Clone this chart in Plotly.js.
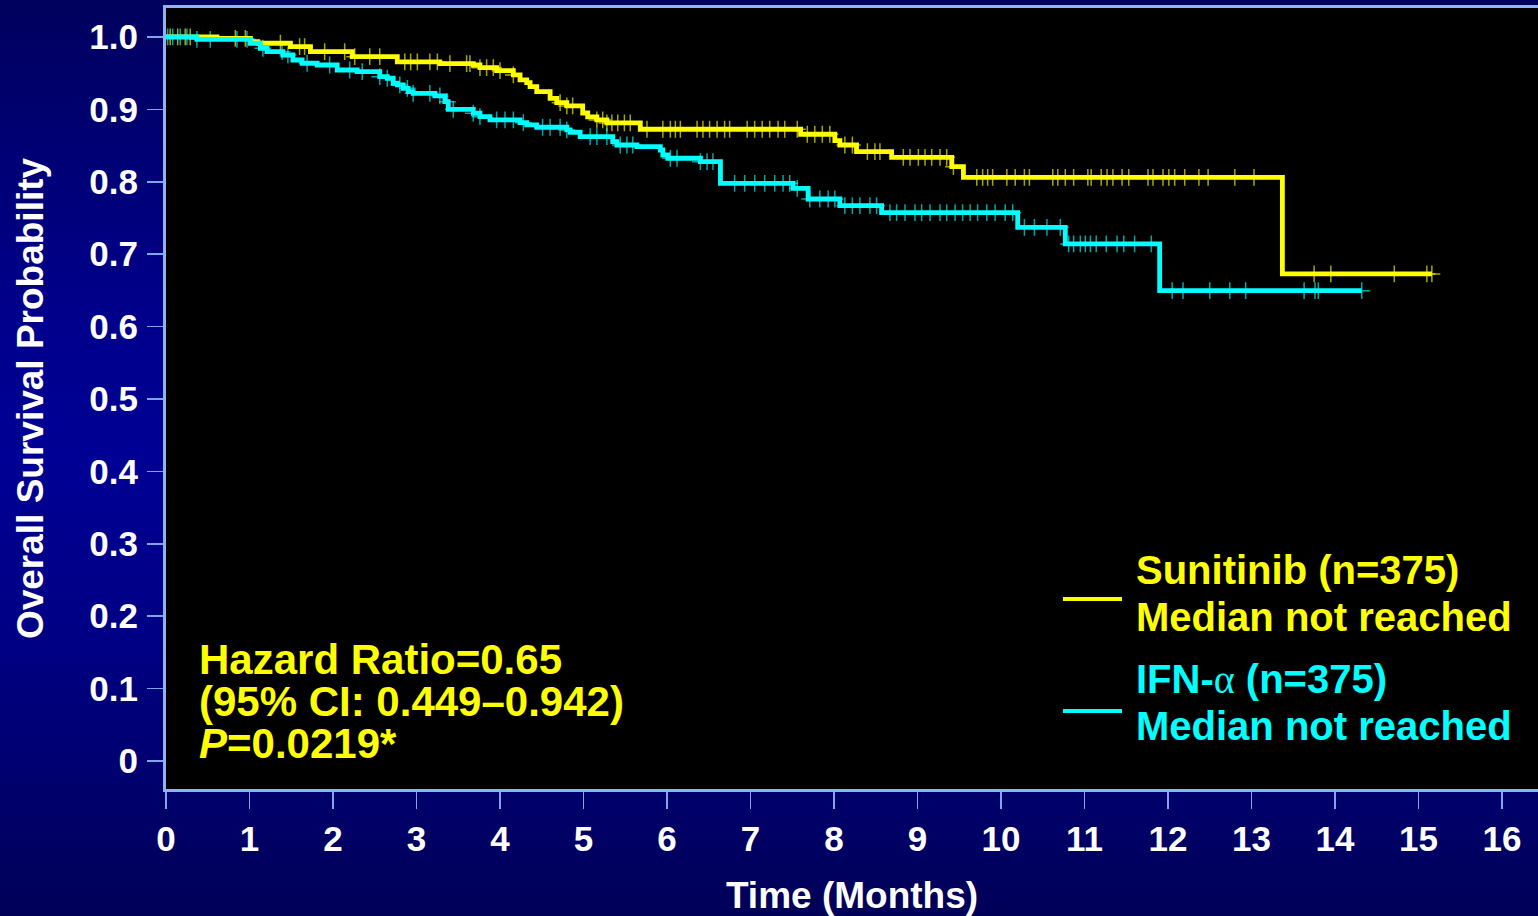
<!DOCTYPE html>
<html>
<head>
<meta charset="utf-8">
<script src="https://cdn.plot.ly/plotly-3.0.1.min.js"></script>
<style>
  html, body { margin: 0; padding: 0; }
  body {
    width: 1538px; height: 916px; overflow: hidden;
    background: linear-gradient(to bottom, #00005e 0%, #00008c 35%, #000094 50%, #000084 70%, #000058 100%);
  }
  #chart { width: 1538px; height: 916px; }
</style>
</head>
<body>
<div id="chart"></div>
<script>
// ---- Data ----
const seriesNames = ["Sunitinib (n=375)", "IFN-<span style='font-family:Liberation Serif;font-weight:normal'>\u03b1</span> (n=375)"];

const sunTime = [0, 0.61, 1.01, 1.10, 1.49, 1.73, 2.23, 2.77, 3.28, 3.68,
  3.76, 3.96, 4.16, 4.24, 4.32, 4.36, 4.44, 4.60, 4.68, 4.80,
  4.99, 5.05, 5.16, 5.28, 5.68, 7.60, 8.01, 8.07, 8.27, 8.69,
  9.41, 9.55, 13.37, 15.16];
const sunSurv = [1.0, 0.998, 0.9935, 0.9913, 0.9866, 0.9797, 0.9728, 0.9655, 0.9631, 0.9613,
  0.9576, 0.9535, 0.9475, 0.9406, 0.9369, 0.9314, 0.9245, 0.9153, 0.9093, 0.9047,
  0.895, 0.8895, 0.8854, 0.8812, 0.8725, 0.8656, 0.8568, 0.8508, 0.8416, 0.8338,
  0.8209, 0.8062, 0.6727, 0.6727];

const ifnTime = [0, 0.37, 1.01, 1.13, 1.21, 1.40, 1.52, 1.63, 1.81, 2.05,
  2.29, 2.56, 2.65, 2.72, 2.77, 2.84, 2.90, 2.96, 3.22, 3.34,
  3.38, 3.68, 3.76, 3.88, 4.24, 4.32, 4.44, 4.80, 4.84, 4.96,
  5.35, 5.40, 5.64, 5.92, 5.95, 6.01, 6.40, 6.64, 7.51, 7.69,
  8.07, 8.57, 10.20, 10.77, 11.90, 14.32];
const ifnSurv = [1.0, 0.9968, 0.9913, 0.9844, 0.9797, 0.9751, 0.9682, 0.9637, 0.9613, 0.9544,
  0.9521, 0.9452, 0.943, 0.9361, 0.9337, 0.9291, 0.9245, 0.9222, 0.9185, 0.9106,
  0.9001, 0.8946, 0.8899, 0.8854, 0.8816, 0.8785, 0.8753, 0.8716, 0.8684, 0.8623,
  0.8554, 0.8508, 0.8485, 0.8439, 0.837, 0.8325, 0.8278, 0.7979, 0.791, 0.7762,
  0.767, 0.7573, 0.7371, 0.7141, 0.6496, 0.6496];

// censoring times (months)
const sunCensor = [0.05, 0.14, 0.23, 0.29, 0.83, 0.95, 1.37, 1.60, 1.66, 1.90,
  2.14, 2.26, 2.44, 2.56, 2.86, 2.93, 3.01, 3.16, 3.25, 3.40, 3.60, 3.64, 3.76, 3.84,
  3.92, 4.00, 4.16, 4.72, 4.80, 4.87, 5.16, 5.23, 5.28, 5.34, 5.41, 5.49, 5.56, 5.76,
  5.95, 6.04, 6.10, 6.16, 6.36, 6.43, 6.51, 6.60, 6.69, 6.75, 6.96, 7.05, 7.14, 7.23,
  7.33, 7.41, 7.56, 7.68, 7.77, 7.86, 7.95, 8.13, 8.22, 8.40, 8.49, 8.55, 8.83, 8.91,
  9.01, 9.09, 9.17, 9.27, 9.35, 9.43, 9.71, 9.78, 9.84, 9.90, 10.07, 10.17, 10.28, 10.34,
  10.62, 10.68, 10.77, 10.87, 11.04, 11.08, 11.20, 11.27, 11.34, 11.45, 11.53, 11.76,
  11.82, 11.94, 12.01, 12.08, 12.20, 12.37, 12.48, 12.80, 13.03, 13.75, 13.95, 14.71,
  15.10, 15.16];
const ifnCensor = [0.02, 0.08, 0.17, 0.25, 0.37, 0.53, 0.85, 0.97, 1.16, 1.39, 1.46,
  1.69, 1.96, 2.20, 2.35, 2.56, 2.65, 2.80, 2.89, 2.96, 3.16, 3.28, 3.37, 3.44, 3.68,
  3.76, 3.96, 4.06, 4.16, 4.28, 4.51, 4.60, 4.72, 4.80, 5.08, 5.16, 5.28, 5.44, 5.52,
  5.59, 6.04, 6.12, 6.40, 6.48, 6.55, 6.81, 6.93, 7.05, 7.17, 7.29, 7.39, 7.47, 7.56,
  7.71, 7.83, 7.93, 8.01, 8.13, 8.22, 8.31, 8.43, 8.51, 8.67, 8.75, 8.85, 8.97, 9.05,
  9.15, 9.27, 9.35, 9.45, 9.54, 9.63, 9.72, 9.83, 9.93, 10.05, 10.14, 10.28, 10.40,
  10.55, 10.71, 10.81, 10.87, 10.95, 11.01, 11.07, 11.14, 11.26, 11.39, 11.47, 11.60,
  11.80, 12.05, 12.18, 12.50, 12.74, 12.93, 13.63, 13.76, 13.80, 14.32];

const xTickVals = [0,1,2,3,4,5,6,7,8,9,10,11,12,13,14,15,16];
const yTickVals = [0,0.1,0.2,0.3,0.4,0.5,0.6,0.7,0.8,0.9,1.0];
const yTickText = ["0","0.1","0.2","0.3","0.4","0.5","0.6","0.7","0.8","0.9","1.0"];

const hazardLines = ["Hazard Ratio=0.65", "(95% CI: 0.449\u20130.942)", "<i>P</i>=0.0219*"];
const medianText = "Median not reached";

// ---- helpers ----
function survAt(times, surv, t) {
  let s = surv[0];
  for (let i = 0; i < times.length; i++) { if (times[i] <= t) s = surv[i]; else break; }
  return s;
}
const YEL = "#ffff00", CYA = "#00ffff";
const L = 166, R = 1538, T = 8, B = 789;
const px = x => (x - L) / (R - L);
const py = y => (B - y) / (B - T);
const FONT = "Liberation Sans, Arial, Helvetica, sans-serif";

function censorTrace(times, surv, cens, color) {
  return {
    x: cens, y: cens.map(t => survAt(times, surv, t)),
    type: "scatter", mode: "markers", hoverinfo: "skip", showlegend: false,
    marker: { symbol: "cross-thin-open", size: 12, color: color, line: { color: color, width: 1.5 } }
  };
}
function lineTrace(times, surv, color, name) {
  return {
    x: times, y: surv, name: name, type: "scatter", mode: "lines",
    line: { shape: "hv", color: color, width: 4.8 }, showlegend: false
  };
}

const data = [
  censorTrace(sunTime, sunSurv, sunCensor, "rgba(255,255,0,0.65)"),
  censorTrace(ifnTime, ifnSurv, ifnCensor, "rgba(0,255,255,0.65)"),
  lineTrace(sunTime, sunSurv, YEL, seriesNames[0]),
  lineTrace(ifnTime, ifnSurv, CYA, seriesNames[1])
];

const tickFont = { family: FONT, size: 35, color: "#ffffff", weight: "bold" };
const titleFont = { family: FONT, size: 37, color: "#ffffff", weight: "bold" };

const annotations = [];
[659, 701, 743].forEach((y, i) => annotations.push({
  xref: "paper", yref: "paper", x: px(197), y: py(y), xanchor: "left", yanchor: "middle",
  text: hazardLines[i], showarrow: false,
  font: { family: FONT, size: 42, color: YEL, weight: "bold" }
}));
const legendRows = [
  { y: 570, text: seriesNames[0], color: YEL },
  { y: 617, text: medianText, color: YEL },
  { y: 679, text: seriesNames[1], color: CYA },
  { y: 726, text: medianText, color: CYA }
];
legendRows.forEach(r => annotations.push({
  xref: "paper", yref: "paper", x: px(1134), y: py(r.y), xanchor: "left", yanchor: "middle",
  text: r.text, showarrow: false,
  font: { family: FONT, size: 40, color: r.color, weight: "bold" }
}));

const shapes = [
  { type: "line", xref: "paper", yref: "paper", x0: px(1063), x1: px(1122), y0: py(599), y1: py(599),
    line: { color: YEL, width: 4 } },
  { type: "line", xref: "paper", yref: "paper", x0: px(1063), x1: px(1122), y0: py(711), y1: py(711),
    line: { color: CYA, width: 4 } }
];

const layout = {
  width: 1538, height: 916,
  margin: { l: L, r: 1538 - R, t: T, b: 916 - B, pad: 0 },
  paper_bgcolor: "rgba(0,0,0,0)",
  plot_bgcolor: "#000000",
  showlegend: false,
  xaxis: {
    range: [0, 16.431], tickvals: xTickVals, ticks: "outside", ticklen: 17, tickwidth: 1.5,
    tickcolor: "#7ea6ea", showline: true, mirror: true, linecolor: "#8db4f0", linewidth: 3,
    showgrid: false, zeroline: false, tickfont: tickFont, ticklabelstandoff: 0,
    title: { text: "Time (Months)", font: titleFont, standoff: 30 }
  },
  yaxis: {
    range: [-0.0387, 1.04], tickvals: yTickVals, ticktext: yTickText, ticks: "outside", ticklen: 16,
    tickwidth: 1.5, tickcolor: "#7ea6ea", showline: true, mirror: false, linecolor: "#8db4f0", linewidth: 3,
    showgrid: false, zeroline: false, tickfont: tickFont, ticklabelstandoff: 2,
    title: { text: "Overall Survival Probability", font: titleFont, standoff: 35 }
  },
  annotations: annotations,
  shapes: shapes
};

Plotly.newPlot("chart", data, layout, { displayModeBar: false, staticPlot: true });
</script>
</body>
</html>
